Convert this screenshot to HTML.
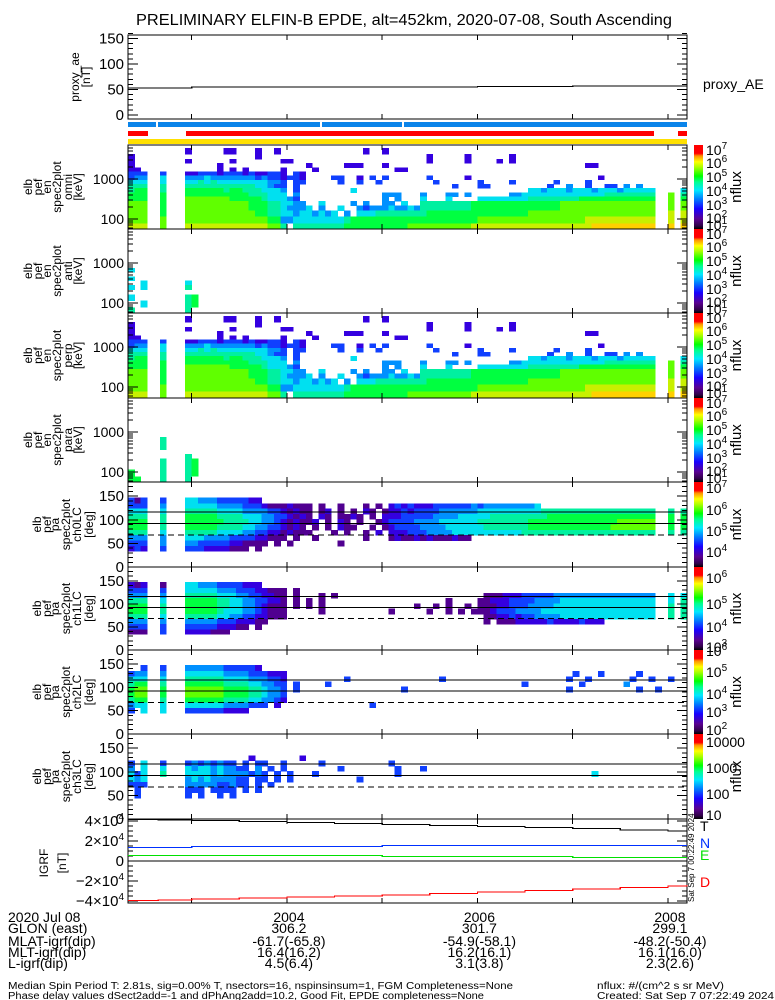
<!DOCTYPE html>
<html><head><meta charset="utf-8">
<style>
body{margin:0;background:#fff;width:775px;height:1000px;overflow:hidden}
svg{display:block;font-family:"Liberation Sans",sans-serif}
</style></head>
<body>
<svg id="chart" width="775" height="1000" viewBox="0 0 775 1000" shape-rendering="crispEdges">
<defs>
<linearGradient id="cb" x1="0" y1="1" x2="0" y2="0">
<stop offset="0" stop-color="#000000"/><stop offset="0.04" stop-color="#300048"/>
<stop offset="0.12" stop-color="#5a0090"/><stop offset="0.24" stop-color="#1800ff"/>
<stop offset="0.36" stop-color="#0080ff"/><stop offset="0.46" stop-color="#00e8ff"/>
<stop offset="0.56" stop-color="#00ff90"/><stop offset="0.63" stop-color="#00ff00"/>
<stop offset="0.74" stop-color="#b0ff00"/><stop offset="0.8" stop-color="#ffff00"/>
<stop offset="0.87" stop-color="#ff9000"/><stop offset="0.9" stop-color="#ff0000"/>
<stop offset="1" stop-color="#ff0000"/>
</linearGradient>
</defs>
<text x="404" y="25" font-size="15.5" text-anchor="middle" textLength="536" lengthAdjust="spacingAndGlyphs">PRELIMINARY ELFIN-B EPDE, alt=452km, 2020-07-08, South Ascending</text>
<text x="703" y="89" font-size="14">proxy_AE</text>
<text x="700" y="831" font-size="14" fill="#000">T</text>
<text x="700" y="848" font-size="14" fill="#0030ff">N</text>
<text x="700" y="860" font-size="14" fill="#00e000">E</text>
<text x="700" y="887" font-size="14" fill="#ff0000">D</text>
<text transform="translate(694,902) rotate(-90)" font-size="8">Sat Sep  7 00:22:49 2024</text>
<g font-size="14">
<text x="8" y="922">2020 Jul 08</text>
<text x="8" y="933">GLON (east)</text>
<text x="8" y="946">MLAT-igrf(dip)</text>
<text x="8" y="957">MLT-igrf(dip)</text>
<text x="8" y="968">L-igrf(dip)</text>
</g>
<text x="8" y="989" font-size="10" textLength="505" lengthAdjust="spacingAndGlyphs">Median Spin Period T: 2.81s, sig=0.00% T, nsectors=16, nspinsinsum=1, FGM Completeness=None</text>
<text x="8" y="999" font-size="10" textLength="476" lengthAdjust="spacingAndGlyphs">Phase delay values dSect2add=-1 and dPhAng2add=10.2, Good Fit, EPDE completeness=None</text>
<text x="597" y="989" font-size="10" textLength="127" lengthAdjust="spacingAndGlyphs">nflux: #/(cm^2 s sr MeV)</text>
<text x="597" y="999" font-size="10" textLength="177" lengthAdjust="spacingAndGlyphs">Created: Sat Sep  7 07:22:49 2024</text>
</svg>
<script>
// ---------- data ----------
const T0 = 2.3316;          // minutes after 20:00 at left edge
const T1 = 8.2;             // right edge
const colStepSec = 4;       // spectrogram time bin
const timeTickMinutes = [3,4,5,6,7,8];
const timeLabelMinutes = [4,6,8];
const timeLabels = ['2004','2006','2008'];
const glonValues = ['306.2','301.7','299.1'];
const mlatValues = ['-61.7(-65.8)','-54.9(-58.1)','-48.2(-50.4)'];
const mltValues = ['16.4(16.2)','16.2(16.1)','16.1(16.0)'];
const lValues = ['4.5(6.4)','3.1(3.8)','2.3(2.6)'];

const aeTimes = [2.33,3.0,4.0,5.0,6.0,7.0,8.2];
const aeValues = [53,55,55,55,56,57,57];
const aeTicks = [0,50,100,150];

const energies = [5000,3600,2800,2195,1728,1365,1078,851,668,523,408,321,248,188,139,97,63];
const pitchAngles = [141,129,118,107,96,84,73,62,51,39];
const lcLines = [116,92];
const blcLine = 68;

const omniRows = [
"9*. 1 5*. 1 1 3*. 1 2*. 1 13*. 1 2*. 1 47*.",
"1 19*. 1 26*. 1 5*. 1 6*. 1 27*.",
"1 8*. 1 6*. 1 7*. 11 21*. 1 5*. 1 4*. 1 . 1 27*.",
"1 13*. 1 13*. 1 5*. 111 3*. 1 31*. 11 14*.",
"11 12*. 1.1.1 5*. 1 4*. 1 12*. 11 44*.",
"222 2*. 2 3*. 1122212221211221.21 60*.",
"233 2*. 4 3*. 3334333333323 221221 4*. 22 2*. 1.2.2 6*. 2 5*. 1 20*. 1 13*.",
"444 2*. 4 3*. 4454544444444 332.22 5*. 2 2*. 2 2*. 2 8*. 2 6*. 2 4*. 2 6*. 2 4*. 2 15*.",
"555 2*. 5 3*. 555555555554 4322.2. 23*. 2 3*. 22 9*. 2 2*. 3 2*. 2 2*. 22.3.3 7*.",
"566 2*. 5 3*. 66666656655 54443.2. 7*. 4 27*. 44344434443444344444 4*. 4",
"666 2*. 6 3*. 666666666655 5444.3. 12*. 333 3*. 3 3*. 33.3 6*. 33444444444444455555555 2*. 7.5",
"666 2*. 6 3*. 77777776666 6544432. 12*. 3.3 3*. 4 3*. 4 4*. 4444444455555555666666666666 2*. 7.6",
"777 2*. 6 3*. 777777777766 6554433 ..4....3.3..33.4.. 5555555566666666666666777777777777777 2*. 7.7",
"777 2*. 6 3*. 7777777777666 554333 4.3..4.. 3233343343 5555555566666666666666777777777777777 2*. 7.7",
"777 2*. 6 3*. 7777777777766 554434 43434.3. 44455555555 6666666666666666 77777777777777777777 2*. 8.8",
"777 2*. 7 3*. 7777777777777 663344 444444 5666666666 66666666666777777777 7777777788888888888 2*. 8.8",
"888 2*. 7 3*. 8888888888888 775.55 555555 6666666666 77777777778888888888 8888888889999999999 2*. 9.9"
];
const antiRows = [
"88*.","88*.","88*.","88*.","88*.","88*.","88*.","88*.",
"4 87*.","88*.","4 87*.","2*. 4 6*. 4 78*.","4 . 4 6*. 5 78*.","88*.","4 8*. 56 77*.","2*. 4 6*. 56 77*.","5 8*. 5 78*."
];
const perpRows = omniRows.slice();
const paraRows = [
"88*.","88*.","88*.","88*.","88*.","88*.","88*.","88*.",
"5*. 5 82*.","5*. 5 82*.","5*. 5 82*.","88*.","9*. 5 78*.","5*. 5 3*. 56 77*.","5*. 5 3*. 56 77*.","6 4*. 5 3*. 56 77*.","66 3*. 5 3*. 5 78*."
];
const ch0Rows = [
"202 2*. 2 3*. 443332222211 67*.",
"222 2*. 3 3*. 4444433332221000100 0.0..0...0.0. 1212111222 2223233333 3334.. 21*.",
"444 2*. 4 3*. 5555544443333221010 0.01.0.0.10.0 11212222333333444444 4444555555555555555555 2*. 5.5",
"555 2*. 5 3*. 6666655554443322101 0.10.0010.0.1 11222223333444445555 5555566666666666666666 2*. 6.6",
"666 2*. 5 3*. 6666665555443321010 01.0.10.0..01 22223333444444555555 5566666666666666777777 2*. 6.6",
"666 2*. 5 3*. 6666655554433221010 .0.0.100..0.0 12222333344444455555 5566666666666667777777 2*. 6.6",
"555 2*. 4 3*. 5555544443322110100 0...0.0..0.1. 11122233334444444444 4555555555555555555555 2*. 5.5",
"333 2*. 3 3*. 4443333222211000.0. .0.......0... 0100101000100....... 27*.",
"222 2*. 3 3*. 3322222110000.0.0.. .....0....... 47*.",
"121 2*. 2 3*. 2221111000.0....... 60*."
];
const ch1Rows = [
"101 2*. 0 3*. 443332222111 67*.",
"222 2*. 2 3*. 4444433322211000.0. 60*.",
"333 2*. 3 3*. 5555544433221100.0. ..0.0........ 15*. 000111222223333333333333333 2*. 4.4",
"555 2*. 4 3*. 6666655443322110.0. 0.0.......... .........0....0 011122223333444444444444444 2*. 4.5",
"666 2*. 5 3*. 6666655443321000.0. 0.0.......... ....0..0.0..0.0 001122233334444444444444444 2*. 5.5",
"666 2*. 5 3*. 6666654443321000... ..0.......... 0.....0..0.0.00 012223333444444444444444444 2*. 5.5",
"555 2*. 4 3*. 5555544332211000... 28*. 001121223333444444444444444 2*. 5.5",
"333 2*. 3 3*. 3333322211100...... 28*. 0.00011111211112111......... 5*.",
"222 2*. 2 3*. 2222211100.0....... 60*.",
"000 2*. 2 3*. 1111000............ 60*."
];
const ch2Rows = [
"..2 2*. 2 3*. 333333222221....... 60*.",
"233 2*. 3 3*. 4444443333222111... 42*. 2 3*. 2 5*. 2 7*.",
"444 2*. 4 3*. 5555554444333221... 6*. 2 14*. 2 19*. 2 2*. 2 6*. 2 2*. 2 2*. 2 2*.",
"566 2*. 5 3*. 6666665555443322.2. 3*. 2 30*. 2 8*. 2 6*. 3 9*.",
"677 2*. 6 3*. 7777776666554332.2. 15*. 2 25*. 2 10*. 2 2*. 2 4*.",
"677 2*. 6 3*. 7777776666554332... 60*.",
"566 2*. 5 3*. 6666665555443321... 60*.",
"344 2*. 4 3*. 4444443333222.1.... 10*. 2 49*.",
"2.4 2*. 4 3*. 2222221111......... 60*.",
"88*."
];
const ch3Rows = [
"88*.",
"3*. 2*. . 3*. ..........1.......1 60*.",
"2.4 2*. 2 3*. 23232322.2.22..2... 2*. 2 10*. 2 47*.",
"3.4 2*. 4 3*. 4344343322.3.2.2... 5*. 2 8*. 2 3*. 2 41*.",
"424 2*. 5 3*. 4444343333232.2.2.. . 2 12*. 2 30*. 4 14*.",
"434 2*. . 3*. 3434333322.22.2.2.. 8*. 2 51*.",
"222 2*. . 3*. 3333322322.2.2..... 60*.",
".2. 2*. . 3*. 222.2222.2.2....... 60*.",
".2. 2*. . 3*. 2.2..2.2........... 60*.",
"88*."
];

const igrfTimes = [2.33,2.65,3.0,3.5,4.0,4.5,5.0,5.5,6.0,6.5,7.0,7.5,8.0,8.2];
const igrfT = [41500,41000,40500,39500,38500,37500,36500,35500,34500,33500,32500,31000,30000,29500];
const igrfN = [13500,13500,14500,14500,14500,14500,15500,15500,15500,15500,15500,15500,15500,15500];
const igrfE = [5500,5500,5500,5500,5500,5500,4500,4500,4500,4500,3500,3500,3500,3500];
const igrfD = [-39500,-39000,-38000,-37000,-36000,-35000,-34000,-32500,-31000,-29500,-28000,-26500,-25000,-24000];
const igrfTicks = [4,2,0,-2,-4];

const energyCbExps = [7,6,5,4,3,2,1];
const ch0CbExps = [7,6,5,4];
const ch1CbExps = [6,5,4,3];
const ch2CbExps = [6,5,4,3,2];
const ch3CbLabels = ['10000','1000','100','10'];

// ---------- rendering ----------
const NS = 'http://www.w3.org/2000/svg';
const svg = document.getElementById('chart');
function mk(tag, attrs, parent){
  const e = document.createElementNS(NS, tag);
  for (const k in attrs) e.setAttribute(k, attrs[k]);
  (parent || svg).appendChild(e);
  return e;
}
const XL = 128, XR = 687;
const xs = t => XL + (t - T0) * (XR - XL) / (T1 - T0);
const levelColors = ['#500090','#3400e0','#1040ff','#0090ff','#00e0f0','#00f0a0','#00ff40','#60ff00','#c8f000','#ffd000'];
function rle(s){
  let out = '';
  s.trim().split(/\s+/).forEach(tok => {
    const m = tok.match(/^(\d+)\*(.)$/);
    if (m) out += m[2].repeat(+m[1]); else out += tok;
  });
  return (out + '.'.repeat(88)).slice(0, 88);
}
const DT = colStepSec / 60;

function drawCells(rows, centers, yOf, top, bot, name){
  const g = mk('g', {});
  
  
  const lv = centers.map(v => Math.log10(v));
  rows.forEach((rs, i) => {
    const s = rle(rs);
    const up = i > 0 ? (lv[i-1] + lv[i]) / 2 : lv[i] + (lv[i] - lv[i+1]) / 2;
    const dn = i < lv.length - 1 ? (lv[i] + lv[i+1]) / 2 : lv[i] - (lv[i-1] - lv[i]) / 2;
    let y1 = Math.max(top, yOf(Math.pow(10, up))), y2 = Math.min(bot, yOf(Math.pow(10, dn)));
    if (y2 <= y1) return;
    for (let c = 0; c < 88; c++) {
      const ch = s[c];
      if (ch === '.') continue;
      const xa = xs(T0 + c * DT), xb = Math.min(XR, xs(T0 + (c + 1) * DT));
      const r = mk('rect', {x: xa.toFixed(2), y: y1.toFixed(2), width: (xb - xa + 0.4).toFixed(2), height: (y2 - y1 + 0.4).toFixed(2), fill: levelColors[+ch]}, g);
      
      
    }
  });
}
function line(x1, y1, x2, y2, parent, extra){
  const l = mk('line', Object.assign({x1, y1, x2, y2, stroke: '#000', 'stroke-width': 1}, extra || {}), parent);
  return l;
}
function frame(top, bot, name){
  const r = mk('rect', {x: XL, y: top, width: XR - XL, height: bot - top, fill: 'none', stroke: '#000', 'stroke-width': 1.3});
  
  
  timeTickMinutes.forEach(m => {
    const x = xs(m);
    const a = line(x, top, x, top + 5);
    
    
    const b = line(x, bot, x, bot - 5);
    
    
  });
}
function ytick(y, len){
  const a = line(XL, y, XL + len, y);
  
  
  const b = line(XR, y, XR - len, y);
  
  
}
function label(x, y, str, size, anchor, name){
  const t = mk('text', {x, y, 'font-size': size, 'text-anchor': anchor || 'end'});
  t.textContent = str;
  
  
  return t;
}
function sup(x, y, base, exp, name, size){
  const t = mk('text', {x, y, 'font-size': size || 14});
  
  
  t.appendChild(document.createTextNode(base));
  const s = mk('tspan', {dy: -6, 'font-size': 10}, t);
  s.textContent = exp;
  return t;
}
function sideLabel(lines, xsCols, yc, name){
  const g = mk('g', {'font-size': 12});
  
  
  lines.forEach((s, i) => {
    const t = mk('text', {transform: `translate(${xsCols[i]},${yc}) rotate(-90)`, 'text-anchor': 'middle'}, g);
    t.textContent = s;
    
    
  });
}
function colorbar(top, bot, name){
  const r = mk('rect', {x: 694, y: top, width: 9, height: bot - top, fill: 'url(#cb)'});
  
  
  const t = mk('text', {transform: `translate(741,${(top + bot) / 2}) rotate(-90)`, 'font-size': 15, 'text-anchor': 'middle'});
  t.textContent = 'nflux';
  
  
}

// ---- proxy AE panel ----
{
  const top = 35, bot = 119;
  const ay = v => 115 - v * 0.51;
  frame(top, bot, 'proxy-ae-panel');
  for (let v = 0; v <= 160; v += 10) ytick(ay(v), v % 50 === 0 ? 10 : 5);
  aeTicks.forEach(v => label(124, ay(v) + 5, String(v), 15, 'end', 'proxy-ae-tick-label'));
  let d = '';
  aeTimes.forEach((t, i) => {
    const x = xs(t), y = ay(aeValues[i]);
    d += i === 0 ? `M${x},${y}` : `H${x}V${y}`;
  });
  const p = mk('path', {d, fill: 'none', stroke: '#000', 'stroke-width': 1.2});
  
  
  sideLabel(['proxy_ae', '[nT]'], [79, 90], 77, 'proxy-ae-axis-title');
}
// ---- status bars ----
{
  const segs = [[128,156,'#0a84ea',122,5],[158,320,'#0a84ea',122,5],[322,402,'#0a84ea',122,5],[404,687,'#0a84ea',122,5],
                [128,148,'#ff0000',131,5],[186,654,'#ff0000',131,5],[678,687,'#ff0000',131,5],
                [128,687,'#ffe000',139,5]];
  segs.forEach(s => {
    const r = mk('rect', {x: s[0], y: s[3], width: s[1] - s[0], height: s[4], fill: s[2]});
    
    
  });
}
// ---- energy panels ----
const ePanels = [
  {top: 145, bot: 229, rows: omniRows, name: 'omni'},
  {top: 229, bot: 313, rows: antiRows, name: 'anti'},
  {top: 313, bot: 398, rows: perpRows, name: 'perp'},
  {top: 398, bot: 482, rows: paraRows, name: 'para'}
];
ePanels.forEach(P => {
  const ey = E => P.top + 34 - 40 * (Math.log10(E) - 3);
  drawCells(P.rows, energies, ey, P.top, P.bot, 'spectrogram-' + P.name);
  frame(P.top, P.bot, 'energy-panel-' + P.name);
  [10, 100, 1000].forEach(dec => {
    for (let k = 1; k < 10; k++) {
      const y = ey(dec * k);
      if (y > P.top + 0.5 && y < P.bot - 0.5) ytick(y, k === 1 ? 10 : 5);
    }
  });
  label(124, ey(1000) + 5, '1000', 14, 'end', 'energy-tick-label');
  label(124, ey(100) + 5, '100', 14, 'end', 'energy-tick-label');
  sideLabel(['elb','pef','en','spec2plot',P.name,'[keV]'], [32,42,51,61,72,82], (P.top + P.bot) / 2, 'energy-axis-title');
  colorbar(P.top, P.bot, 'colorbar-' + P.name);
  const offs = [5,18,32,46,60,73,80];
  energyCbExps.forEach((e, i) => sup(706, P.top + offs[i] + 5, '10', String(e), 'colorbar-tick-label'));
});
// ---- pitch angle panels ----
const pPanels = [
  {top: 482, bot: 567, rows: ch0Rows, name: 'ch0LC', exps: ch0CbExps, offs: [6,28,49,70]},
  {top: 567, bot: 650, rows: ch1Rows, name: 'ch1LC', exps: ch1CbExps, offs: [11,37,60,80]},
  {top: 650, bot: 734, rows: ch2Rows, name: 'ch2LC', exps: ch2CbExps, offs: [1,22,44,62,80]},
  {top: 734, bot: 819, rows: ch3Rows, name: 'ch3LC', labels: ch3CbLabels, offs: [8,34,60,81]}
];
pPanels.forEach(P => {
  const py = a => P.bot - a * (P.bot - P.top) / 180;
  drawCells(P.rows, pitchAngles, a => py(a), P.top, P.bot, 'pa-spectrogram-' + P.name);
  frame(P.top, P.bot, 'pa-panel-' + P.name);
  for (let a = 10; a < 180; a += 10) ytick(py(a), a % 50 === 0 ? 10 : 5);
  [0,50,100,150].forEach(a => label(124, py(a) + 5, String(a), 15, 'end', 'pa-tick-label'));
  lcLines.forEach(a => {
    const l = line(XL, py(a), XR, py(a));
    
    
  });
  const dl = line(XL, py(blcLine), XR, py(blcLine), null, {'stroke-dasharray': '6,4'});
  
  
  sideLabel(['elb','pef','pa','spec2plot',P.name,'[deg]'], [41,51,59,70,81,93], (P.top + P.bot) / 2, 'pa-axis-title');
  colorbar(P.top, P.bot, 'colorbar-' + P.name);
  if (P.exps) P.exps.forEach((e, i) => sup(706, P.top + P.offs[i] + 5, '10', String(e), 'colorbar-tick-label'));
  else P.labels.forEach((s, i) => label(706, P.top + P.offs[i] + 5, s, 14, 'start', 'colorbar-tick-label'));
});
// ---- IGRF panel ----
{
  const top = 819, bot = 903;
  const iy = v => 861 - v / 1000;
  frame(top, bot, 'igrf-panel');
  for (let v = -40000; v <= 40000; v += 5000) ytick(iy(v), v % 20000 === 0 ? 10 : 5);
  igrfTicks.forEach(k => {
    const y = iy(k * 10000) + 5;
    if (k === 0) label(124, y, '0', 15, 'end', 'igrf-tick-label');
    else {
      const t = mk('text', {x: 124, y, 'font-size': 15, 'text-anchor': 'end'});
      
      
      t.appendChild(document.createTextNode((k < 0 ? '\u2212' : '') + Math.abs(k) + '\u00d710'));
      const s = mk('tspan', {dy: -6, 'font-size': 10}, t);
      s.textContent = '4';
    }
  });
  const zl = line(XL, iy(0), XR, iy(0));
  
  
  const series = [[igrfT,'#000','igrf-t-line'],[igrfN,'#0030ff','igrf-n-line'],[igrfE,'#00e000','igrf-e-line'],[igrfD,'#ff0000','igrf-d-line']];
  series.forEach(([vals, col, nm]) => {
    let d = '';
    igrfTimes.forEach((t, i) => {
      const x = Math.min(XR, xs(t)), y = iy(vals[i]);
      d += i === 0 ? `M${x},${y}` : `H${x}V${y}`;
    });
    const p = mk('path', {d, fill: 'none', stroke: col, 'stroke-width': 1.3});
    
    
  });
  sideLabel(['IGRF', '[nT]'], [48, 66], 863, 'igrf-axis-title');
}
// ---- bottom axis table ----
timeLabelMinutes.forEach((m, i) => {
  const x = xs(m) + 2;
  label(x, 922, timeLabels[i], 14, 'middle', 'time-tick-label');
  label(x, 933, glonValues[i], 14, 'middle', 'glon-value');
  label(x, 946, mlatValues[i], 14, 'middle', 'mlat-value');
  label(x, 957, mltValues[i], 14, 'middle', 'mlt-value');
  label(x, 968, lValues[i], 14, 'middle', 'l-value');
});
</script>
</body></html>
